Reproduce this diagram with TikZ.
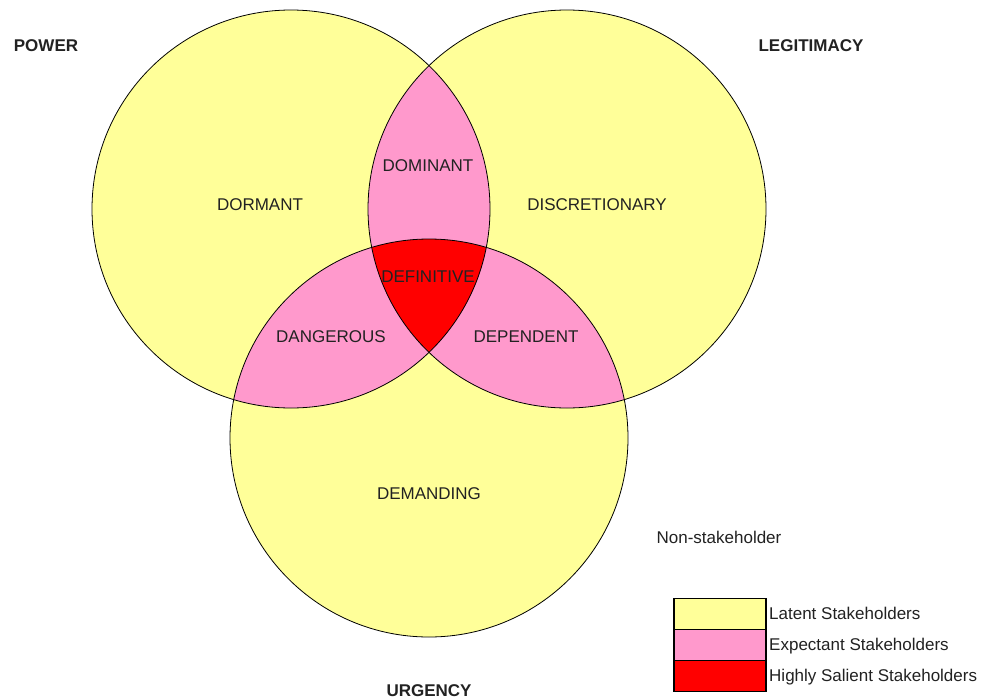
\documentclass[tikz,border=0pt]{standalone}
\usepackage{fontspec}
\setmainfont{Liberation Sans}
\begin{document}
\definecolor{latent}{HTML}{FFFF99}
\definecolor{expectant}{HTML}{FF99CC}
\definecolor{salient}{HTML}{FF0000}
\definecolor{ink}{HTML}{222222}
\begin{tikzpicture}[x=1pt,y=-1pt,
  every node/.style={inner sep=0pt, text=ink, font=\fontsize{17}{20}\selectfont,
                     text height=12.2pt, text depth=0pt},
  region/.style={},
  setname/.style={font=\fontsize{17}{20}\selectfont\bfseries},
  ring/.style={draw=black, line width=0.8pt},
  legbox/.style={draw=black, line width=1.3pt, minimum width=92pt, minimum height=31pt,
                 text height=, text depth=},
  legtext/.style={anchor=west}]
  \useasboundingbox[fill=white] (0,0) rectangle (990,699);

  % circle centres and common radius
  \coordinate (P) at (291,209);
  \coordinate (L) at (567,209);
  \coordinate (U) at (429,438);
  \def\rad{199pt}

  % one-attribute areas
  \fill[latent] (P) circle[radius=\rad];
  \fill[latent] (L) circle[radius=\rad];
  \fill[latent] (U) circle[radius=\rad];

  % two-attribute lenses
  \begin{scope}
    \clip (P) circle[radius=\rad];
    \fill[expectant] (L) circle[radius=\rad];
    \fill[expectant] (U) circle[radius=\rad];
  \end{scope}
  \begin{scope}
    \clip (L) circle[radius=\rad];
    \fill[expectant] (U) circle[radius=\rad];
  \end{scope}

  % three-attribute core
  \begin{scope}
    \clip (P) circle[radius=\rad];
    \clip (L) circle[radius=\rad];
    \fill[salient] (U) circle[radius=\rad];
  \end{scope}

  % outlines
  \draw[ring] (P) circle[radius=\rad];
  \draw[ring] (L) circle[radius=\rad];
  \draw[ring] (U) circle[radius=\rad];

  % attribute names
  \node[setname] (power) at (46,45) {POWER};
  \node[setname] (legit) at (811,45) {LEGITIMACY};
  \node[setname] (urg) at (429,690) {URGENCY};

  % stakeholder classes
  \node (dormant) at (260,204) {DORMANT};
  \node (discret) at (597,204) {DISCRETIONARY};
  \node (demand) at (429,493) {DEMANDING};
  \node (domin) at (428,165) {DOMINANT};
  \node (danger) at (331,336) {DANGEROUS};
  \node (depend) at (526,336) {DEPENDENT};
  \node (defin) at (428,276) {DEFINITIVE};
  \node (nonst) at (719,537) {Non-stakeholder};

  % legend
  \node[legbox, fill=latent] (kl) at (720,614) {};
  \node[legbox, fill=expectant] (ke) at (720,645) {};
  \node[legbox, fill=salient] (ks) at (720,676) {};
  \node[legtext] (tl) at (769,613) {Latent Stakeholders};
  \node[legtext] (te) at (769,644) {Expectant Stakeholders};
  \node[legtext] (ts) at (769,675) {Highly Salient Stakeholders};
\end{tikzpicture}
\end{document}
